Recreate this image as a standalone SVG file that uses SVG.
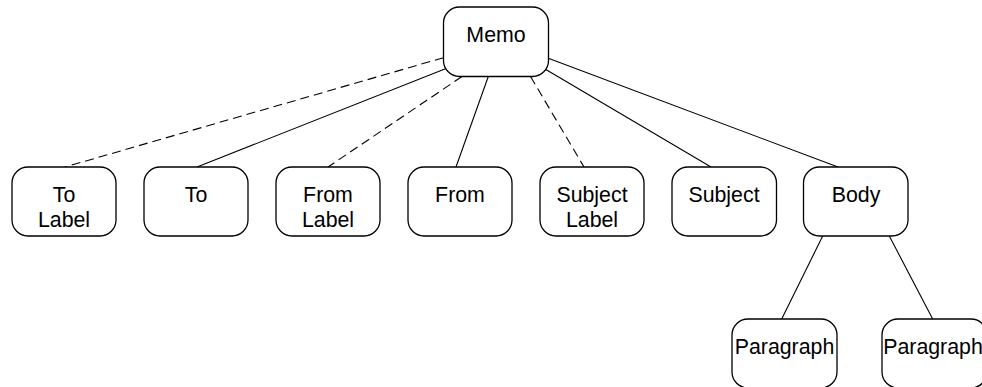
<svg xmlns="http://www.w3.org/2000/svg" width="982" height="387" viewBox="0 0 982 387">
  <style>
    .box { fill: #ffffff; stroke: #000000; stroke-width: 1.3; }
    .lbl { font-family: "Liberation Sans", Arial, sans-serif; font-size: 21.33px; fill: #000000; text-anchor: middle; }
    .edge { stroke: #000000; stroke-width: 1.1; fill: none; }
    .dashed { stroke-dasharray: 9 5; }
  </style>
  <rect x="0" y="0" width="982" height="387" fill="#ffffff"/>

  <g id="connectors">
    <line class="edge dashed" x1="443.5" y1="57.7" x2="65" y2="167"/>
    <line class="edge" x1="446.7" y1="68.3" x2="197" y2="167"/>
    <line class="edge dashed" x1="462" y1="76.5" x2="328" y2="167"/>
    <line class="edge" x1="488.3" y1="76.5" x2="456" y2="167"/>
    <line class="edge dashed" x1="530.5" y1="76.5" x2="584" y2="167"/>
    <line class="edge" x1="545" y1="69" x2="711" y2="167"/>
    <line class="edge" x1="548.3" y1="58.3" x2="838" y2="167"/>
    <line class="edge" x1="822.7" y1="236" x2="781.7" y2="319"/>
    <line class="edge" x1="889.3" y1="236" x2="932.7" y2="319"/>
  </g>

  <g id="memo">
    <rect class="box" x="443.5" y="7" width="105" height="69.5" rx="16" ry="16"/>
    <text class="lbl" x="496" y="42">Memo</text>
  </g>

  <g id="to-label">
    <rect class="box" x="12" y="167" width="104" height="69" rx="16" ry="16"/>
    <text class="lbl" x="64" y="202">To</text>
    <text class="lbl" x="64" y="227">Label</text>
  </g>

  <g id="to">
    <rect class="box" x="144" y="167" width="104" height="69" rx="16" ry="16"/>
    <text class="lbl" x="196" y="202">To</text>
  </g>

  <g id="from-label">
    <rect class="box" x="276" y="167" width="104" height="69" rx="16" ry="16"/>
    <text class="lbl" x="328" y="202">From</text>
    <text class="lbl" x="328" y="227">Label</text>
  </g>

  <g id="from">
    <rect class="box" x="408" y="167" width="104" height="69" rx="16" ry="16"/>
    <text class="lbl" x="460" y="202">From</text>
  </g>

  <g id="subject-label">
    <rect class="box" x="540" y="167" width="104" height="69" rx="16" ry="16"/>
    <text class="lbl" x="592" y="202">Subject</text>
    <text class="lbl" x="592" y="227">Label</text>
  </g>

  <g id="subject">
    <rect class="box" x="672" y="167" width="104.5" height="69" rx="16" ry="16"/>
    <text class="lbl" x="724" y="202">Subject</text>
  </g>

  <g id="body">
    <rect class="box" x="803.5" y="167" width="104.5" height="69" rx="16" ry="16"/>
    <text class="lbl" x="856" y="202">Body</text>
  </g>

  <g id="paragraph-1">
    <rect class="box" x="732" y="319" width="105" height="69" rx="16" ry="16"/>
    <text class="lbl" x="784.5" y="354">Paragraph</text>
  </g>

  <g id="paragraph-2">
    <rect class="box" x="882" y="319" width="105" height="69" rx="16" ry="16"/>
    <text class="lbl" x="933" y="354">Paragraph</text>
  </g>
</svg>
